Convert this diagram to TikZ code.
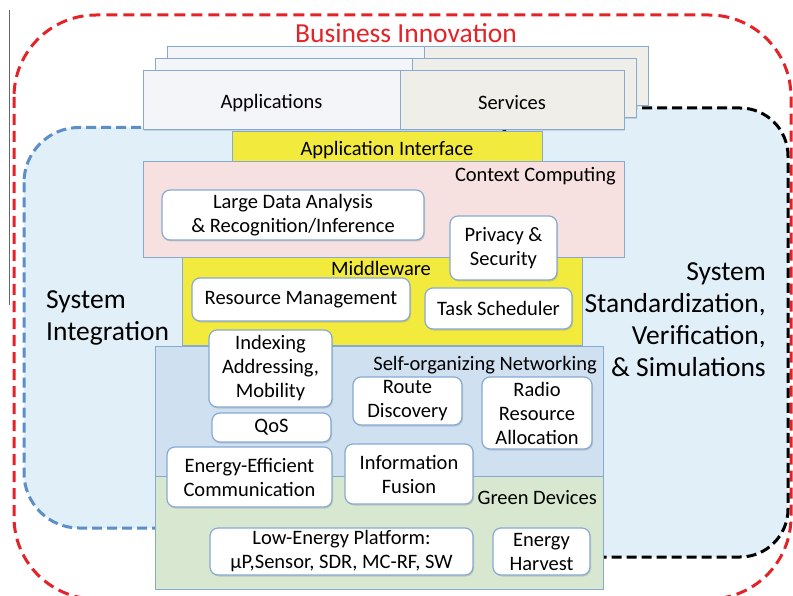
\documentclass[tikz,border=0pt]{standalone}
\usepackage{fontspec}
\setmainfont{Carlito}
\usetikzlibrary{shadows}
\definecolor{redline}{RGB}{228,35,40}
\definecolor{blueline}{RGB}{92,142,200}
\definecolor{skyfill}{RGB}{225,239,248}
\definecolor{edgeblue}{RGB}{135,170,210}
\definecolor{appfill}{RGB}{244,245,248}
\definecolor{svcfill}{RGB}{239,238,232}
\definecolor{ifyellow}{RGB}{243,234,62}
\definecolor{ctxpink}{RGB}{246,224,224}
\definecolor{netblue}{RGB}{207,224,240}
\definecolor{devgreen}{RGB}{216,232,208}
\newcommand{\boxfont}{\fontsize{20.5}{24}\selectfont}
\newcommand{\bigfont}{\fontsize{27.5}{32}\selectfont}
\tikzset{
  layer/.style={draw=edgeblue, line width=1pt},
  card/.style={draw=edgeblue, line width=1.2pt, fill=white, rounded corners=8pt,
    align=center, inner sep=0pt, font=\boxfont,
    drop shadow={opacity=0.3, shadow xshift=1pt, shadow yshift=-1.5pt}},
  caption/.style={font=\boxfont, inner sep=0pt},
  bigtext/.style={font=\bigfont, inner sep=0pt},
}
\begin{document}
\begin{tikzpicture}[x=1pt,y=-1pt]
  \useasboundingbox (0,0) rectangle (793,596);
  \fill[white] (0,0) rectangle (793,596);
  \draw[gray!80!black, line width=1pt] (9,10)--(9,305);
  \draw[redline, line width=3pt, dash pattern=on 11pt off 6pt, rounded corners=82pt] (14,15) rectangle (791,599);
  \draw[blueline, fill=skyfill, line width=3pt, dash pattern=on 10pt off 5pt, rounded corners=55pt] (24,127.5) rectangle (600,528);
  \draw[black, fill=skyfill, line width=3pt, dash pattern=on 10pt off 5pt, rounded corners=48pt] (497,108) rectangle (788,557);
  \foreach \d in {24,12,0} {
    \draw[layer, fill=appfill, drop shadow={opacity=0.25, shadow xshift=1pt, shadow yshift=-1.5pt}] (143+\d,71-\d) rectangle (400+\d,130-\d);
    \draw[layer, fill=svcfill, drop shadow={opacity=0.25, shadow xshift=1pt, shadow yshift=-1.5pt}] (400+\d,71-\d) rectangle (624+\d,130-\d);
  }
  \node[caption] (apps) at (271.5,103) {Applications};
  \node[caption] (svcs) at (512,103) {Services};
  \draw[layer, fill=ifyellow] (232,132) rectangle (542,162);
  \draw[layer, fill=ctxpink] (143,162) rectangle (624,258);
  \draw[layer, fill=ifyellow] (182,258) rectangle (582,345);
  \draw[layer, fill=netblue] (155,346) rectangle (603,476);
  \draw[layer, fill=devgreen] (155,476) rectangle (603,589);
  \node[caption] (apiname) at (387,150) {Application Interface};
  \node[caption, anchor=east] (ctxname) at (616,176) {Context Computing};
  \node[caption] (midname) at (381,268) {Middleware};
  \node[caption, anchor=east] (netname) at (597,365) {Self-organizing Networking};
  \node[caption, anchor=east] (devname) at (597,498) {Green Devices};
  \node[card, minimum width=262pt, minimum height=50pt] (bigdata) at (293,215) {Large Data Analysis\\\& Recognition/Inference};
  \node[card, minimum width=107pt, minimum height=64pt] (privacy) at (503.5,248) {Privacy \&\\Security};
  \node[card, minimum width=218pt, minimum height=43pt] (resmgmt) at (301,299.5) {Resource Management};
  \node[card, minimum width=147pt, minimum height=41pt] (tasks) at (498.5,308.5) {Task Scheduler};
  \node[card, minimum width=123pt, minimum height=77pt] (indexing) at (270.5,368.5) {Indexing\\Addressing,\\Mobility};
  \node[card, minimum width=119pt, minimum height=29pt] (qos) at (271.5,427.5) {QoS};
  \node[card, minimum width=165pt, minimum height=60pt] (effcomm) at (249.5,477) {Energy-Efficient\\Communication};
  \node[card, minimum width=109pt, minimum height=48pt] (route) at (407.5,401) {Route\\Discovery};
  \node[card, minimum width=110pt, minimum height=72pt] (radio) at (537,413) {Radio\\Resource\\Allocation};
  \node[card, minimum width=128pt, minimum height=60pt] (fusion) at (409,474) {Information\\Fusion};
  \node[card, minimum width=263pt, minimum height=47pt] (platform) at (341.5,551.5) {Low-Energy Platform:\\µP,Sensor, SDR, MC-RF, SW};
  \node[card, minimum width=97pt, minimum height=47pt] (harvest) at (541.5,551.5) {Energy\\Harvest};
  \node[bigtext, text=redline] (biz) at (406,33) {Business Innovation};
  \node[bigtext, align=left, anchor=west] (integ) at (46,317.5) {System\\Integration};
  \node[bigtext, align=right, anchor=east] (stdz) at (766,320) {System\\Standardization,\\Verification,\\\& Simulations};
\end{tikzpicture}
\end{document}
